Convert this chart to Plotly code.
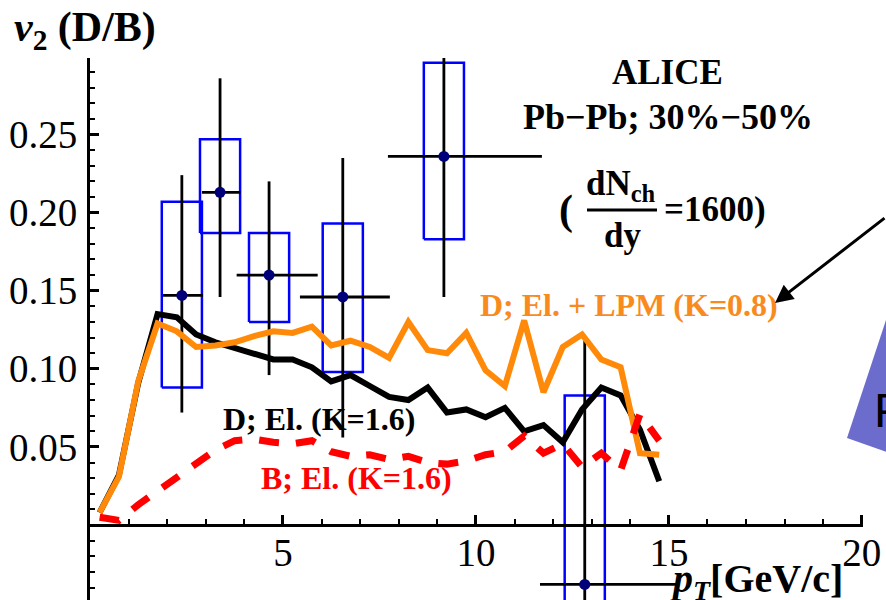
import plotly.graph_objects as go

# ---------------- data ----------------
pt_grid = [0.25 + 0.5 * k for k in range(30)]

v2_D_el = [0.008, 0.032, 0.091, 0.135, 0.133, 0.122, 0.117, 0.113, 0.109, 0.106,
           0.106, 0.101, 0.092, 0.096, 0.089, 0.082, 0.080, 0.088, 0.072, 0.074,
           0.069, 0.075, 0.060, 0.064, 0.053, 0.074, 0.088, 0.083, 0.061, 0.028]

v2_D_lpm = [0.008, 0.031, 0.092, 0.129, 0.124, 0.114, 0.115, 0.117, 0.121, 0.124,
            0.123, 0.127, 0.115, 0.118, 0.114, 0.107, 0.130, 0.112, 0.110, 0.123,
            0.099, 0.089, 0.131, 0.085, 0.114, 0.122, 0.106, 0.101, 0.046, 0.045]

v2_B_el = [0.005, 0.003, 0.013, 0.022, 0.031, 0.040, 0.048, 0.054, 0.055, 0.053,
           0.052, 0.054, 0.047, 0.044, 0.045, 0.042, 0.044, 0.040, 0.039, 0.041,
           0.045, 0.047, 0.057, 0.046, 0.052, 0.037, 0.046, 0.035, 0.071, 0.054]

alice_pt = [2.38, 3.37, 4.64, 6.55, 9.17, 12.82]
alice_v2 = [0.147, 0.213, 0.160, 0.146, 0.236, -0.038]
alice_pt_lo = [1.89, 2.90, 3.80, 5.44, 7.72, 11.66]
alice_pt_hi = [2.93, 3.90, 5.90, 7.77, 11.71, 15.20]
alice_stat_lo = [0.072, 0.146, 0.096, 0.056, 0.146, -0.194]
alice_stat_hi = [0.224, 0.286, 0.220, 0.235, 0.326, 0.118]
alice_sys_lo = [0.088, 0.187, 0.130, 0.098, 0.183, -0.159]
alice_sys_hi = [0.207, 0.247, 0.187, 0.193, 0.296, 0.083]
box_half_width = 0.52

y_ticks = [0.05, 0.10, 0.15, 0.20, 0.25]
y_tick_text = ["0.05", "0.10", "0.15", "0.20", "0.25"]
x_ticks = [5, 10, 15, 20]
x_tick_text = ["5", "10", "15", "20"]

x_range = [0, 20.03]
y_range = [-0.048, 0.299]

# ---------------- layout helpers ----------------
W, H = 886, 600
ML, MR, MT, MB = 90, 23, 58, 0
def px(x):
    return (x - ML) / (W - ML - MR)
def py(y):
    return (H - MB - y) / (H - MT - MB)

SERIF = "Liberation Serif"
ORANGE = "#FF8A0A"
ORANGE_TXT = "#F98B1E"
RED = "#FF0000"
BLUE = "#0000FF"

fig = go.Figure()

# systematic boxes
bx, by = [], []
for c, lo, hi in zip(alice_pt, alice_sys_lo, alice_sys_hi):
    x0, x1 = c - box_half_width, c + box_half_width
    bx += [x0, x1, x1, x0, x0, None]
    by += [lo, lo, hi, hi, lo, None]
fig.add_trace(go.Scatter(x=bx, y=by, mode="lines",
                         line=dict(color=BLUE, width=2.5), showlegend=False,
                         hoverinfo="skip"))

# data points with statistical errors
fig.add_trace(go.Scatter(
    x=alice_pt, y=alice_v2, mode="markers",
    marker=dict(color="#00007A", size=11),
    error_x=dict(type="data", symmetric=False,
                 array=[h - c for h, c in zip(alice_pt_hi, alice_pt)],
                 arrayminus=[c - l for l, c in zip(alice_pt_lo, alice_pt)],
                 color="black", thickness=2.8, width=0),
    error_y=dict(type="data", symmetric=False,
                 array=[h - c for h, c in zip(alice_stat_hi, alice_v2)],
                 arrayminus=[c - l for l, c in zip(alice_stat_lo, alice_v2)],
                 color="black", thickness=2.8, width=0),
    showlegend=False))

# model curves
fig.add_trace(go.Scatter(x=pt_grid, y=v2_D_el, mode="lines",
                         line=dict(color="black", width=6), showlegend=False))
fig.add_trace(go.Scatter(x=pt_grid, y=v2_D_lpm, mode="lines",
                         line=dict(color=ORANGE, width=6), showlegend=False))
fig.add_trace(go.Scatter(x=pt_grid, y=v2_B_el, mode="lines",
                         line=dict(color=RED, width=7, dash="20px,17px"),
                         showlegend=False))

ann = []
def text(s, x, y, size, color="black", xanchor="center", yanchor="middle", family=SERIF):
    ann.append(dict(text=s, x=px(x), y=py(y), xref="paper", yref="paper",
                    xanchor=xanchor, yanchor=yanchor, showarrow=False,
                    font=dict(family=family, size=size, color=color)))

text("<b><i>v</i><sub>2</sub> (D/B)</b>", 12, 30, 42, xanchor="left")
text("<b><i>p</i><sub><i>T</i></sub>[GeV/c]</b>", 668, 581, 40, xanchor="left")
text("<b>ALICE</b>", 667, 73, 35)
text("<b>Pb\u2212Pb; 30%\u221250%</b>", 668, 117, 36)
text("<b>(</b>", 566, 210, 42)
text("<b>dN<sub>ch</sub></b>", 621, 185, 35)
text("<b>dy</b>", 622, 235, 35)
text("<b>=1600)</b>", 662, 209, 35, xanchor="left")
text("<b>D; El. + LPM (K=0.8)</b>", 629, 305, 32, color=ORANGE_TXT)
text("<b>D; El. (K=1.6)</b>", 319, 419, 32)
text("<b>B; El. (K=1.6)</b>", 356, 478, 32, color=RED)
text("P", 872, 410, 48, xanchor="left", family="Liberation Sans")

# arrow
ann.append(dict(x=px(775), y=py(303), xref="paper", yref="paper", text="",
                showarrow=True, arrowhead=2, arrowsize=1.2, arrowwidth=3,
                arrowcolor="black", ax=130, ay=-86))

shapes = [
    dict(type="line", xref="paper", yref="paper", x0=px(587), x1=px(657),
         y0=py(210), y1=py(210), line=dict(color="black", width=3)),
    dict(type="path", xref="paper", yref="paper",
         path=f"M {px(887)},{py(317)} L {px(847)},{py(438)} L {px(887)},{py(452)} Z",
         fillcolor="#6C6CCC", line=dict(width=0), layer="below"),
]

fig.update_layout(
    width=W, height=H,
    margin=dict(l=ML, r=MR, t=MT, b=MB, pad=0),
    plot_bgcolor="white", paper_bgcolor="white",
    annotations=ann, shapes=shapes,
    xaxis=dict(range=x_range, anchor="free",
               position=(0 - y_range[0]) / (y_range[1] - y_range[0]),
               showgrid=False, zeroline=False, showline=True,
               linecolor="black", linewidth=3,
               tickvals=x_ticks, ticktext=x_tick_text,
               ticks="inside", ticklen=9, tickwidth=2.5, tickcolor="black",
               minor=dict(dtick=1, tick0=0, ticks="inside", ticklen=5,
                          tickwidth=2, tickcolor="black"),
               tickfont=dict(family=SERIF, size=39, color="black"),
               ticklabelstandoff=-8, automargin=False),
    yaxis=dict(range=y_range, showgrid=False, zeroline=False, showline=True,
               linecolor="black", linewidth=3,
               tickvals=y_ticks, ticktext=y_tick_text,
               ticks="inside", ticklen=9, tickwidth=2.5, tickcolor="black",
               minor=dict(dtick=0.01, tick0=0, ticks="inside", ticklen=5,
                          tickwidth=2, tickcolor="black"),
               tickfont=dict(family=SERIF, size=39, color="black"),
               ticklabelstandoff=2, automargin=False),
)

fig.write_html("out.html", config={"displayModeBar": False},
               post_script="document.body.style.margin='0';document.body.style.overflow='hidden';")
